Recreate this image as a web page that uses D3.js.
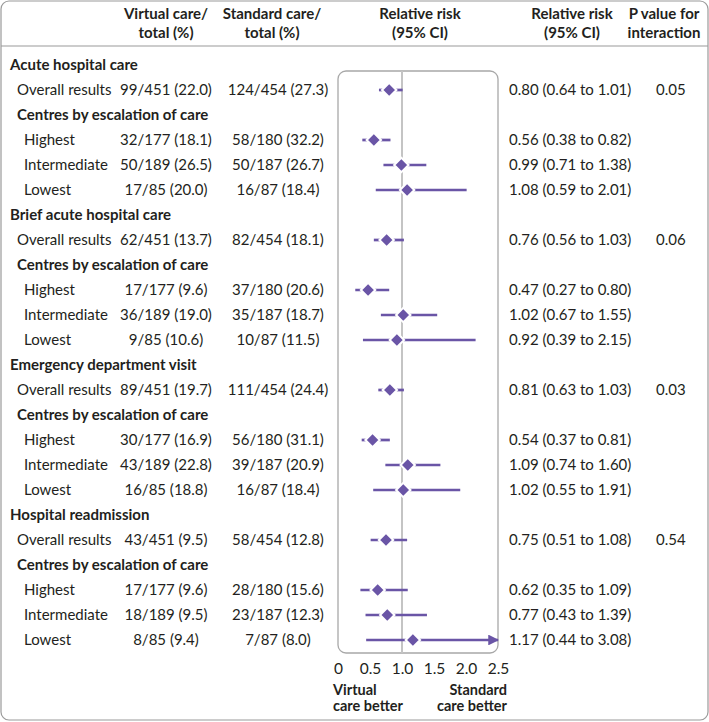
<!DOCTYPE html>
<html><head><meta charset="utf-8">
<script src="https://cdn.jsdelivr.net/npm/d3@7"></script>
<style>body{margin:0;background:#fff}svg{display:block}text{font-family:Lato,"Noto Sans",sans-serif;fill:#231f20}</style>
</head><body>
<script>
const outcomes = ["Acute hospital care","Brief acute hospital care","Emergency department visit","Hospital readmission"];
const subgroupHeading = "Centres by escalation of care";
const subgroups = ["Overall results","Highest","Intermediate","Lowest"];
const virtualCare = [
  ["99/451 (22.0)","32/177 (18.1)","50/189 (26.5)","17/85 (20.0)"],
  ["62/451 (13.7)","17/177 (9.6)","36/189 (19.0)","9/85 (10.6)"],
  ["89/451 (19.7)","30/177 (16.9)","43/189 (22.8)","16/85 (18.8)"],
  ["43/451 (9.5)","17/177 (9.6)","18/189 (9.5)","8/85 (9.4)"]];
const standardCare = [
  ["124/454 (27.3)","58/180 (32.2)","50/187 (26.7)","16/87 (18.4)"],
  ["82/454 (18.1)","37/180 (20.6)","35/187 (18.7)","10/87 (11.5)"],
  ["111/454 (24.4)","56/180 (31.1)","39/187 (20.9)","16/87 (18.4)"],
  ["58/454 (12.8)","28/180 (15.6)","23/187 (12.3)","7/87 (8.0)"]];
const rr    = [[0.80,0.56,0.99,1.08],[0.76,0.47,1.02,0.92],[0.81,0.54,1.09,1.02],[0.75,0.62,0.77,1.17]];
const lower = [[0.64,0.38,0.71,0.59],[0.56,0.27,0.67,0.39],[0.63,0.37,0.74,0.55],[0.51,0.35,0.43,0.44]];
const upper = [[1.01,0.82,1.38,2.01],[1.03,0.80,1.55,2.15],[1.03,0.81,1.60,1.91],[1.08,1.09,1.39,3.08]];
const pInteraction = ["0.05","0.06","0.03","0.54"];
const tickValues = [0,0.5,1.0,1.5,2.0,2.5];
const tickLabels = ["0","0.5","1.0","1.5","2.0","2.5"];

const W=709,H=722;
const purple="#6a55a6";
const svg=d3.select("body").append("svg").attr("width",W).attr("height",H);
const x=d3.scaleLinear().domain([0,2.5]).range([338,498]);
const y=d3.scaleLinear().domain([0,23]).range([65,640]);
const fs=15;

// outer border
svg.append("rect").attr("x",1).attr("y",1).attr("width",W-2).attr("height",H-3).attr("rx",8)
  .attr("fill","none").attr("stroke","#9a9a9a").attr("stroke-width",1.2);
svg.append("line").attr("x1",1).attr("x2",W-1).attr("y1",46).attr("y2",46).attr("stroke","#9a9a9a").attr("stroke-width",1.2);

// headers
const headers=[[166,["Virtual care/","total (%)"]],[272,["Standard care/","total (%)"]],[420,["Relative risk","(95% CI)"]],
  [572,["Relative risk","(95% CI)"]],[664,["P value for","interaction"]]];
headers.forEach(([cx,lines])=>{
  lines.forEach((t,i)=>svg.append("text").attr("x",cx).attr("y",19+i*19).attr("text-anchor","middle")
    .attr("font-size",fs).attr("font-weight",700).text(t));
});

// forest box
const boxTop=71,boxBot=653;
svg.append("rect").attr("x",x(0)).attr("y",boxTop).attr("width",x(2.5)-x(0)).attr("height",boxBot-boxTop).attr("rx",8)
  .attr("fill","none").attr("stroke","#a8a8a8").attr("stroke-width",1.3);
svg.append("line").attr("x1",x(1)).attr("x2",x(1)).attr("y1",boxTop).attr("y2",boxBot).attr("stroke","#c4c4c4").attr("stroke-width",2);

// axis
const axis=d3.axisBottom(x).tickValues(tickValues).tickFormat((d,i)=>tickLabels[i]).tickSize(0).tickPadding(0);
const ag=svg.append("g").attr("transform",`translate(0,${boxBot+7})`).call(axis);
ag.select(".domain").remove();
ag.selectAll("text").attr("font-size",15.5).attr("fill","#231f20").style("font-family","Lato,'Noto Sans',sans-serif").attr("dy","0.9em");

const bfs=14.5;
svg.append("text").attr("x",333).attr("y",695).attr("font-size",bfs).attr("font-weight",700).text("Virtual");
svg.append("text").attr("x",333).attr("y",711).attr("font-size",bfs).attr("font-weight",700).text("care better");
svg.append("text").attr("x",507).attr("y",695).attr("font-size",bfs).attr("font-weight",700).attr("text-anchor","end").text("Standard");
svg.append("text").attr("x",507).attr("y",711).attr("font-size",bfs).attr("font-weight",700).attr("text-anchor","end").text("care better");

// arrow marker
svg.append("defs").append("marker").attr("id","arr").attr("viewBox","0 0 10 10").attr("refX",9).attr("refY",5)
  .attr("markerWidth",4).attr("markerHeight",4).attr("orient","auto")
  .append("path").attr("d","M0,0L10,5L0,10Z").attr("fill",purple);

outcomes.forEach((name,s)=>{
  const base=s*6;
  svg.append("text").attr("x",10).attr("y",y(base)).attr("dy","0.35em").attr("font-size",fs).attr("font-weight",700).text(name);
  svg.append("text").attr("x",17).attr("y",y(base+2)).attr("dy","0.35em").attr("font-size",fs).attr("font-weight",700).text(subgroupHeading);
  subgroups.forEach((g,k)=>{
    const r = k===0? base+1 : base+2+k;
    const yy=y(r);
    svg.append("text").attr("x",k===0?17:24).attr("y",yy).attr("dy","0.35em").attr("font-size",fs).text(g);
    svg.append("text").attr("x",166).attr("y",yy).attr("dy","0.35em").attr("font-size",fs).attr("text-anchor","middle").text(virtualCare[s][k]);
    svg.append("text").attr("x",278).attr("y",yy).attr("dy","0.35em").attr("font-size",fs).attr("text-anchor","middle").text(standardCare[s][k]);
    svg.append("text").attr("x",509).attr("y",yy).attr("dy","0.35em").attr("font-size",fs)
      .text(`${rr[s][k].toFixed(2)} (${lower[s][k].toFixed(2)} to ${upper[s][k].toFixed(2)})`);
    if(k===0) svg.append("text").attr("x",656).attr("y",yy).attr("dy","0.35em").attr("font-size",fs).text(pInteraction[s]);
    const hi=Math.min(upper[s][k],2.5);
    const ln=svg.append("line").attr("x1",x(lower[s][k])).attr("x2",x(hi)).attr("y1",yy).attr("y2",yy)
      .attr("stroke",purple).attr("stroke-width",2.7);
    if(upper[s][k]>2.5) ln.attr("marker-end","url(#arr)");
    const cx=x(rr[s][k]), d=7.2;
    svg.append("path").attr("d",`M${cx},${yy-d}L${cx+d},${yy}L${cx},${yy+d}L${cx-d},${yy}Z`)
      .attr("fill",purple).attr("stroke","#fff").attr("stroke-width",2);
  });
});
</script>
</body></html>
